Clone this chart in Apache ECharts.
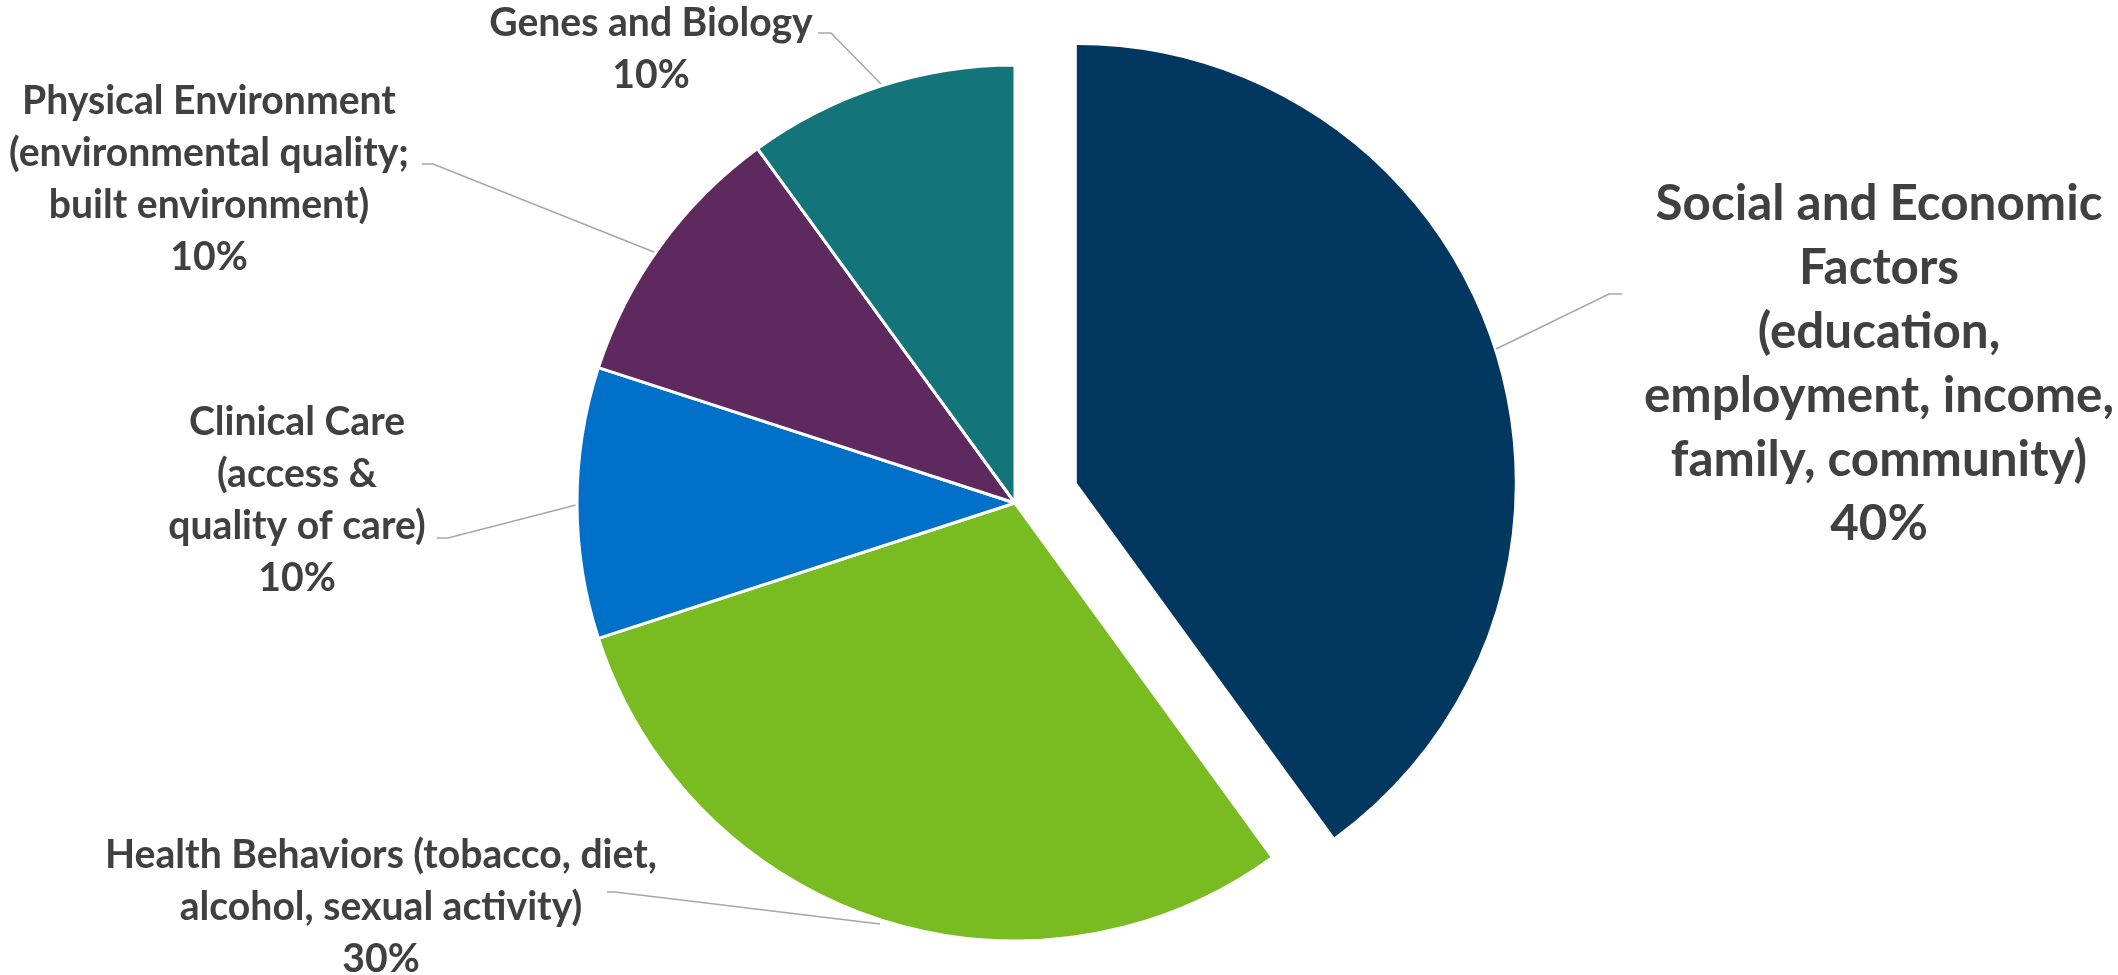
<!DOCTYPE html>
<html>
<head>
<meta charset="utf-8">
<script src="https://cdn.jsdelivr.net/npm/echarts@6/dist/echarts.min.js"></script>
<style>
html,body{margin:0;padding:0;background:#fff;}
#chart{width:2118px;height:975px;}
</style>
</head>
<body>
<div id="chart"></div>
<script>
// ---- data ----
const categories = [
  'Social and Economic\nFactors\n(education,\nemployment, income,\nfamily, community)',
  'Health Behaviors (tobacco, diet,\nalcohol, sexual activity)',
  'Clinical Care\n(access &\nquality of care)',
  'Physical Environment\n(environmental quality;\nbuilt environment)',
  'Genes and Biology'
];
const values = [40, 30, 10, 10, 10];
const colors = ['#02375F', '#78BC21', '#0070C9', '#5D295E', '#137579'];
const explodedIndex = 0;

// ---- styling ----
const FONT = 'Lato';
function fitSize(text, targetWidth) {
  const c = document.createElement('canvas').getContext('2d');
  c.font = 'bold 100px ' + FONT;
  return 100 * targetWidth / c.measureText(text).width;
}
const bigSize = fitSize('Social and Economic', 447);
const smallSize = fitSize('Physical Environment', 374);

// label placement and leader-line routing (layout only)
const labelPos = [
  {x: 1879, y: 364, size: bigSize, lh: 64,
   line: [[1496, 349], [1609, 294], [1622, 294]]},
  {x: 381, y: 907, size: smallSize, lh: 52,
   line: [[880, 924], [615, 892], [607, 892]]},
  {x: 297, y: 500, size: smallSize, lh: 52,
   line: [[576, 505], [448, 538], [437, 538]]},
  {x: 209, y: 179, size: smallSize, lh: 52,
   line: [[659, 254], [433, 164], [422, 164]]},
  {x: 651, y: 49, size: smallSize, lh: 52,
   line: [[881, 84], [831, 33], [818, 33]]}
];

const CENTER = [1015, 503];
const R = 438;
const OFFSET = 65;
const total = values.reduce((a, b) => a + b, 0);
let before = 0;
for (let i = 0; i < explodedIndex; i++) before += values[i];
const midAngle = (before + values[explodedIndex] / 2) / total * 2 * Math.PI;
const explodedCenter = [CENTER[0] + OFFSET * Math.sin(midAngle), CENTER[1] - OFFSET * Math.cos(midAngle)];

const baseLabel = {
  show: true,
  position: 'outside',
  overflow: 'none',
  formatter: p => p.name + '\n' + p.value + '%',
  color: '#404040',
  fontFamily: FONT,
  fontWeight: 'bold',
  align: 'center'
};
const baseLine = {
  show: true,
  length: 20,
  length2: 10,
  smooth: false,
  lineStyle: {color: '#A6A6A6', width: 1.5}
};
const labelLayout = function (params) {
  const p = labelPos[params.dataIndex];
  return {x: p.x, y: p.y, align: 'center', verticalAlign: 'middle', labelLinePoints: p.line};
};

const mainData = categories.map((c, i) => i === explodedIndex ? {
  name: c, value: values[i],
  itemStyle: {color: 'rgba(0,0,0,0)', borderWidth: 0},
  label: {show: false}, labelLine: {show: false}
} : {
  name: c, value: values[i],
  itemStyle: {color: colors[i]},
  label: {fontSize: labelPos[i].size, lineHeight: labelPos[i].lh}
});

const explodedData = categories.map((c, i) => i === explodedIndex ? {
  name: c, value: values[i],
  itemStyle: {color: colors[i]},
  label: {fontSize: labelPos[i].size, lineHeight: labelPos[i].lh}
} : {
  name: c, value: values[i],
  itemStyle: {color: 'rgba(0,0,0,0)', borderWidth: 0},
  label: {show: false}, labelLine: {show: false}
});

const chart = echarts.init(document.getElementById('chart'), null, {renderer: 'canvas'});
chart.setOption({
  animation: false,
  series: [{
    type: 'pie',
    center: CENTER,
    radius: R,
    startAngle: 90,
    clockwise: true,
    avoidLabelOverlap: false,
    itemStyle: {borderColor: '#ffffff', borderWidth: 3},
    emphasis: {disabled: true},
    silent: true,
    label: baseLabel,
    labelLine: baseLine,
    labelLayout: labelLayout,
    data: mainData
  }, {
    type: 'pie',
    center: explodedCenter,
    radius: R,
    startAngle: 90,
    clockwise: true,
    avoidLabelOverlap: false,
    itemStyle: {borderColor: '#ffffff', borderWidth: 0},
    emphasis: {disabled: true},
    silent: true,
    label: baseLabel,
    labelLine: baseLine,
    labelLayout: labelLayout,
    data: explodedData
  }]
});
</script>
</body>
</html>
